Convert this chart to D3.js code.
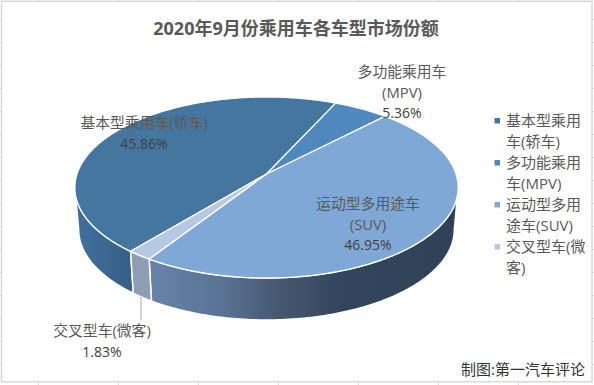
<!DOCTYPE html>
<html>
<head>
<meta charset="utf-8">
<script src="https://cdn.jsdelivr.net/npm/d3@7"></script>
<style>
    html, body { margin: 0; padding: 0; background: #fff; }
    svg { display: block; }
    text { font-family: "Open Sans", "Noto Sans CJK SC", sans-serif; }
</style>
</head>
<body>
<svg id="chart" width="594" height="385"></svg>
<script>
const titleText = "2020年9月份乘用车各车型市场份额";
const footerText = "制图:第一汽车评论";
const categories = ["基本型乘用车(轿车)", "多功能乘用车(MPV)", "运动型多用途车(SUV)", "交叉型车(微客)"];
const shares = [45.86, 5.36, 46.95, 1.83];
const topColors = ["#44769f", "#4f87bf", "#7fa8d6", "#b5c9e5"];
const legendLines = [["基本型乘用", "车(轿车)"], ["多功能乘用", "车(MPV)"], ["运动型多用", "途车(SUV)"], ["交叉型车(微", "客)"]];
const labelLines = [["基本型乘用车(轿车)"], ["多功能乘用车", "(MPV)"], ["运动型多用途车", "(SUV)"], ["交叉型车(微客)"]];

const svg = d3.select("#chart");
const deg = Math.PI / 180;

// perspective ellipse, the hub sits above the ellipse centre
const pieGeom = { x0: 266.5, y0: 174, a: 189.5, b: 88.5, p: 0.149, depth: 42, bottomScale: 0.98, start: 219.4 };
const labelPos = [
    { x: 144, y: 128 },
    { x: 402, y: 77 },
    { x: 368, y: 209 },
    { x: 102, y: 336 }
];

function rimPoint(t) {
    const u = Math.sin(t), v = Math.cos(t), w = 1 + pieGeom.p * v;
    return [pieGeom.x0 + pieGeom.a * u / w, pieGeom.y0 - pieGeom.b * v / w];
}

function bottomPoint(t) {
    const [x, y] = rimPoint(t);
    return [pieGeom.x0 + (x - pieGeom.x0) * pieGeom.bottomScale, y + pieGeom.depth];
}

function sampleAngles(t0, t1) {
    const n = Math.max(2, Math.ceil(Math.abs(t1 - t0) / (1 * deg)));
    return d3.range(n + 1).map(i => t0 + (t1 - t0) * i / n);
}

const line = d3.line();
const color = d3.scaleOrdinal().domain(categories).range(topColors);

const arcs = d3.pie().sort(null)
    .startAngle(pieGeom.start * deg)
    .endAngle((pieGeom.start + 360) * deg)(shares);

const defs = svg.append("defs");

function addGradient(id, stops) {
    const g = defs.append("linearGradient")
        .attr("id", id)
        .attr("gradientUnits", "userSpaceOnUse")
        .attr("x1", 75).attr("x2", 458).attr("y1", 0).attr("y2", 0);
    stops.forEach(s => g.append("stop").attr("offset", (s[0] - 75) / 383).attr("stop-color", s[1]));
}
addGradient("side-suv", [[150, "#6883aa"], [220, "#5a7396"], [280, "#45586f"], [340, "#33465d"], [458, "#2f4157"]]);
addGradient("side-sedan", [[75, "#41709d"], [130, "#355f88"]]);

// spreadsheet gridlines peeking out behind the chart frame
const gridColor = "#d9d9d9";
const ticks = svg.append("g").attr("stroke", gridColor).attr("stroke-width", 1);
d3.range(38.5, 594, 80).forEach(x => {
    ticks.append("line").attr("x1", x).attr("x2", x).attr("y1", 0).attr("y2", 1);
    ticks.append("line").attr("x1", x).attr("x2", x).attr("y1", 382).attr("y2", 385);
});
d3.range(19.5, 385, 23).forEach(y => {
    ticks.append("line").attr("x1", 0).attr("x2", 1).attr("y1", y).attr("y2", y);
    ticks.append("line").attr("x1", 592).attr("x2", 594).attr("y1", y).attr("y2", y);
});

// chart frame
svg.append("rect")
    .attr("x", 1.5).attr("y", 1.25).attr("width", 590.5).attr("height", 380.5)
    .attr("fill", "#fff").attr("stroke", gridColor).attr("stroke-width", 1.5);

svg.append("text")
    .attr("x", 296).attr("y", 34.5)
    .attr("text-anchor", "middle")
    .attr("font-size", 18).attr("font-weight", 700).attr("fill", "#595959")
    .text(titleText);

// side walls, only the front half of the rim shows
const frontFrom = 98.6 * deg, frontTo = 261.4 * deg;
const sides = [
    { index: 2, fill: "url(#side-suv)" },
    { index: 0, fill: "url(#side-sedan)" },
    { index: 3, fill: "#8c9db5" }
];
function normAngles(d) {
    return [d.startAngle % (2 * Math.PI), d.endAngle % (2 * Math.PI)];
}
svg.append("g").selectAll("path")
    .data(sides)
    .join("path")
    .attr("fill", d => d.fill)
    .attr("stroke", "#fff")
    .attr("stroke-width", 1.5)
    .attr("d", d => {
        let [t0, t1] = normAngles(arcs[d.index]);
        if (t1 < t0) t1 += 2 * Math.PI;
        const from = Math.max(t0, frontFrom), to = Math.min(t1, frontTo);
        const angles = sampleAngles(from, to);
        const pts = angles.map(rimPoint).concat(angles.slice().reverse().map(bottomPoint));
        return line(pts) + "Z";
    });

// top face
svg.append("g").selectAll("path")
    .data(arcs)
    .join("path")
    .attr("fill", (d, i) => color(categories[i]))
    .attr("stroke", "#fff")
    .attr("stroke-width", 1.3)
    .attr("stroke-linejoin", "round")
    .attr("d", d => line([[pieGeom.x0, pieGeom.y0]].concat(sampleAngles(d.startAngle, d.endAngle).map(rimPoint))) + "Z");

// leader line for the small slice
svg.append("line")
    .attr("x1", 141).attr("x2", 141).attr("y1", 297).attr("y2", 320)
    .attr("stroke", "#a6a6a6").attr("stroke-width", 1);

// data labels
const labels = svg.append("g").selectAll("g")
    .data(arcs)
    .join("g")
    .attr("text-anchor", "middle");
labels.each(function (d, i) {
    const g = d3.select(this);
    labelLines[i].forEach((txt, k) => {
        g.append("text")
            .attr("x", labelPos[i].x)
            .attr("y", labelPos[i].y + k * 21)
            .attr("font-size", 14.8)
            .attr("fill", "#595959")
            .text(txt);
    });
    g.append("text")
        .attr("x", labelPos[i].x)
        .attr("y", labelPos[i].y + labelLines[i].length * 20.5)
        .attr("font-size", 14)
        .attr("fill", "#404040")
        .text(d.data.toFixed(2) + "%");
});

// legend
const legend = svg.append("g").selectAll("g")
    .data(categories)
    .join("g")
    .attr("transform", (d, i) => `translate(494.5,${118 + i * 42})`);
legend.append("rect")
    .attr("width", 5.5).attr("height", 5.5)
    .attr("fill", d => color(d));
legend.each(function (d, i) {
    legendLines[i].forEach((txt, k) => {
        d3.select(this).append("text")
            .attr("x", 11.5).attr("y", 8 + k * 21)
            .attr("font-size", 15)
            .attr("fill", "#595959")
            .text(txt);
    });
});

svg.append("text")
    .attr("x", 585).attr("y", 375)
    .attr("text-anchor", "end")
    .attr("font-size", 15).attr("fill", "#333333")
    .text(footerText);
</script>
</body>
</html>
